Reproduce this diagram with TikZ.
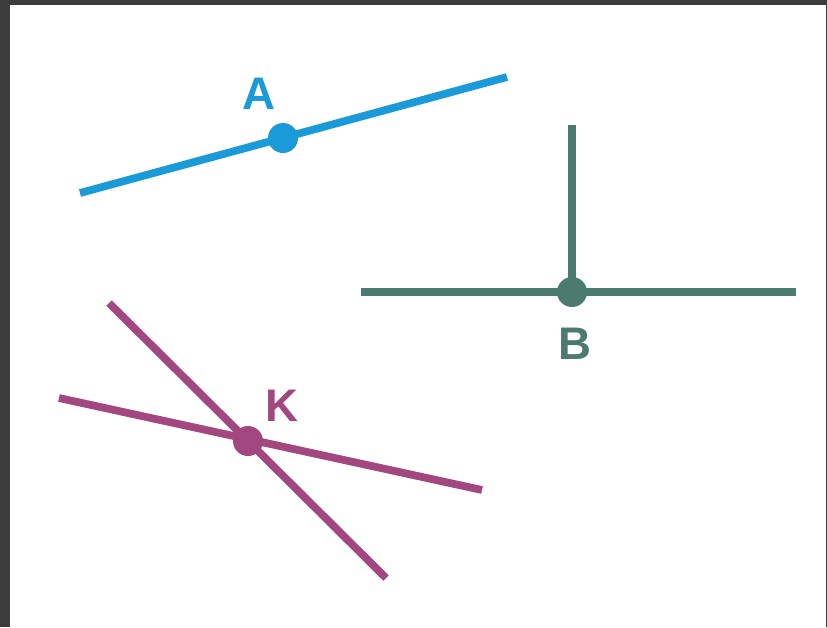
\documentclass[tikz,border=0pt]{standalone}
\usepackage{fontspec}
\setmainfont{Liberation Sans}
\definecolor{frameGray}{HTML}{3C3C3C}
\definecolor{lineBlue}{HTML}{1A9AD9}
\definecolor{lineGreen}{HTML}{4B7A6F}
\definecolor{linePurple}{HTML}{A2477F}
\tikzset{
    ray/.style={line width=4.4pt},
    pointdot/.style={circle, inner sep=0pt, minimum size=0.6cm},
    pointlabel/.style={font=\fontsize{26}{26}\selectfont\bfseries, inner sep=0pt}
}

\begin{document}
\begin{tikzpicture}[x=0.02cm, y=-0.02cm]
    \useasboundingbox (0,0) rectangle (827,627);
    \fill[frameGray] (0,0) rectangle (827,627);
    \fill[white] (10,5) rectangle (826,627);

    % point A on one line
    \coordinate (a1) at (80,193);
    \coordinate (a2) at (507,77);
    \draw[ray, lineBlue] (a1) -- (a2);
    \node[pointdot, fill=lineBlue] (A) at (283,138) {};
    \node[pointlabel, text=lineBlue] (labelA) at (259,94) {A};

    % point B where two lines meet
    \coordinate (b1) at (361,292);
    \coordinate (b2) at (796,292);
    \coordinate (b3) at (572,125);
    \coordinate (b0) at (572,292);
    \draw[ray, lineGreen] (b1) -- (b2);
    \draw[ray, lineGreen] (b3) -- (b0);
    \node[pointdot, fill=lineGreen] (B) at (b0) {};
    \node[pointlabel, text=lineGreen] (labelB) at (575,344) {B};

    % point K where two lines cross
    \coordinate (k1) at (59,398);
    \coordinate (k2) at (482,490);
    \coordinate (k3) at (109,303);
    \coordinate (k4) at (386,578);
    \draw[ray, linePurple] (k1) -- (k2);
    \draw[ray, linePurple] (k3) -- (k4);
    \node[pointdot, fill=linePurple] (K) at (248,441) {};
    \node[pointlabel, text=linePurple] (labelK) at (282,406) {K};
\end{tikzpicture}
\end{document}
